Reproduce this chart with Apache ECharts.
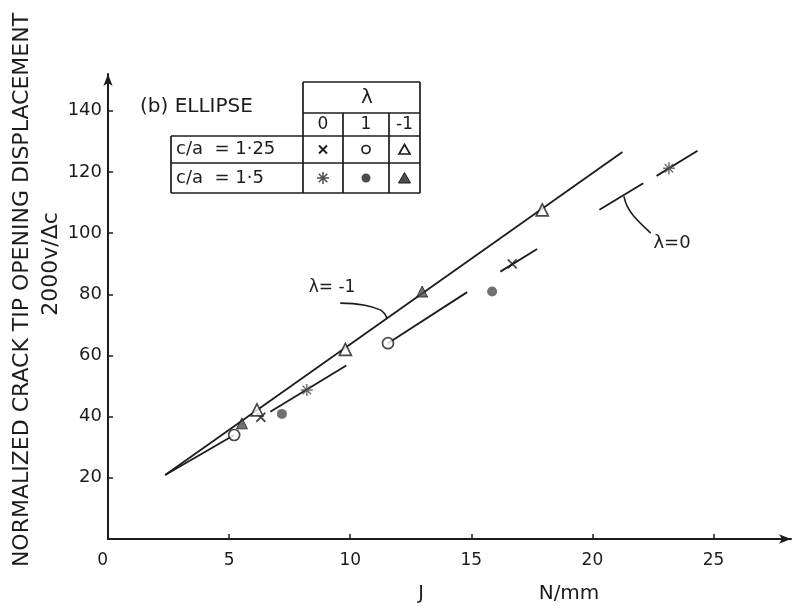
<!DOCTYPE html>
<html>
<head>
<meta charset="utf-8">
<script src="https://cdn.jsdelivr.net/npm/echarts@6/dist/echarts.min.js"></script>
<style>
html, body { margin: 0; padding: 0; background: #fff; }
#chart { width: 797px; height: 615px; }
</style>
</head>
<body>
<div id="chart"></div>
<script>
// points: [J (N/mm), 2000v/Δc]
const crossPts = [[6.31, 39.8], [16.69, 89.9]];                    // c/a = 1.25, λ = 0
const openCirclePts = [[5.21, 34.0], [11.56, 64.0]];               // c/a = 1.25, λ = 1
const openTrianglePts = [[6.15, 42.2], [9.80, 62.0], [17.93, 107.6]]; // c/a = 1.25, λ = -1
const starPts = [[8.21, 48.7], [23.16, 121.2]];                    // c/a = 1.5, λ = 0
const filledCirclePts = [[7.18, 40.9], [15.86, 80.9]];             // c/a = 1.5, λ = 1
const filledTrianglePts = [[5.53, 37.8], [12.97, 80.9]];           // c/a = 1.5, λ = -1

// fitted lines (drawn in pieces like the original)
const lineNeg1Segs = [[[2.36, 20.9], [21.24, 126.5]]];
const line1Segs = [[[2.36, 20.9], [5.21, 34.0]], [[11.56, 64.0], [14.83, 80.7]]];
const line0Segs = [
    [[6.70, 41.6], [9.84, 56.7]],
    [[16.2, 87.4], [17.72, 94.8]],
    [[20.29, 107.6], [22.10, 116.3]],
    [[22.65, 118.7], [24.34, 126.9]]
];
// curved pointers to the line labels
const leaderNeg1 = [[9.59, 77.1], [10.55, 76.5], [11.24, 74.9], [11.45, 73.3], [11.52, 71.9]];
const leader0 = [[21.30, 112.0], [21.44, 108.7], [21.72, 105.4], [22.41, 100.0]];

const xTicks = [0, 5, 10, 15, 20, 25];
const yTicks = [20, 40, 60, 80, 100, 120, 140];

var ink = '#1c1c1c';
var grey = '#4d4d4d';
var font = "'DejaVu Sans', sans-serif";

var chartDom = document.getElementById('chart');
var myChart = echarts.init(chartDom);

const crossPath = 'path://M0,0L10,10M10,0L0,10';
const starPath = 'path://M5,0L5,10M0,5L10,5M1.5,1.5L8.5,8.5M8.5,1.5L1.5,8.5';

var segSeries = function (segs, width) {
    return segs.map(function (s) {
        return {
            type: 'line',
            data: s,
            showSymbol: false,
            silent: true,
            z: 2,
            lineStyle: { color: ink, width: width || 1.8 }
        };
    });
};

var leaderSeries = function (pts) {
    return {
        type: 'line',
        data: pts,
        smooth: 0.4,
        showSymbol: false,
        silent: true,
        z: 2,
        lineStyle: { color: ink, width: 1.6 }
    };
};

var scatter = function (pts, symbol, size, style) {
    return {
        type: 'scatter',
        data: pts,
        symbol: symbol,
        symbolSize: size,
        z: 5,
        itemStyle: style
    };
};

// ---- the table in the upper left ----
var hl = function (x1, x2, y) {
    return { type: 'line', shape: { x1: x1, y1: y, x2: x2, y2: y }, style: { stroke: ink, lineWidth: 1.7 } };
};
var vl = function (x, y1, y2) {
    return { type: 'line', shape: { x1: x, y1: y1, x2: x, y2: y2 }, style: { stroke: ink, lineWidth: 1.7 } };
};
var txt = function (x, y, s, size, align) {
    return {
        type: 'text', x: x, y: y,
        style: { text: s, font: size + 'px ' + font, fill: ink, align: align || 'center', verticalAlign: 'middle' }
    };
};

var tL = 171, c0 = 303, c1 = 343, c2 = 389, tR = 420;
var r0 = 82, r1 = 113, r2 = 136, r3 = 163, r4 = 193;
var col0 = (c0 + c1) / 2, col1 = (c1 + c2) / 2, col2 = (c2 + tR) / 2;
var row1 = (r2 + r3) / 2, row2 = (r3 + r4) / 2;

var tableGraphics = [
    hl(c0, tR, r0), hl(c0, tR, r1), hl(tL, tR, r2), hl(tL, tR, r3), hl(tL, tR, r4),
    vl(tL, r2, r4), vl(c0, r0, r4), vl(c1, r1, r4), vl(c2, r1, r4), vl(tR, r0, r4),
    txt(140, 107, '(b) ELLIPSE', 20, 'left'),
    txt(367, 98, 'λ', 20),
    txt(col0, 124.5, '0', 17), txt(col1, 124.5, '1', 17), txt(col2, 124.5, '-1', 17),
    txt(176, row1, 'c/a  = 1·25', 18, 'left'),
    txt(176, row2, 'c/a  = 1·5', 18, 'left'),
    // row 1 symbols
    { type: 'line', shape: { x1: col0 - 4, y1: row1 - 4, x2: col0 + 4, y2: row1 + 4 }, style: { stroke: ink, lineWidth: 1.8 } },
    { type: 'line', shape: { x1: col0 + 4, y1: row1 - 4, x2: col0 - 4, y2: row1 + 4 }, style: { stroke: ink, lineWidth: 1.8 } },
    { type: 'circle', shape: { cx: col1, cy: row1, r: 4 }, style: { fill: '#fff', stroke: ink, lineWidth: 1.7 } },
    { type: 'polygon', shape: { points: [[col2, row1 - 5], [col2 + 5.5, row1 + 4.5], [col2 - 5.5, row1 + 4.5]] }, style: { fill: '#fff', stroke: ink, lineWidth: 1.7 } },
    // row 2 symbols
    { type: 'line', shape: { x1: col0, y1: row2 - 6, x2: col0, y2: row2 + 6 }, style: { stroke: grey, lineWidth: 1.5 } },
    { type: 'line', shape: { x1: col0 - 6, y1: row2, x2: col0 + 6, y2: row2 }, style: { stroke: grey, lineWidth: 1.5 } },
    { type: 'line', shape: { x1: col0 - 4.3, y1: row2 - 4.3, x2: col0 + 4.3, y2: row2 + 4.3 }, style: { stroke: grey, lineWidth: 1.5 } },
    { type: 'line', shape: { x1: col0 + 4.3, y1: row2 - 4.3, x2: col0 - 4.3, y2: row2 + 4.3 }, style: { stroke: grey, lineWidth: 1.5 } },
    { type: 'circle', shape: { cx: col1, cy: row2, r: 4.5 }, style: { fill: grey } },
    { type: 'polygon', shape: { points: [[col2, row2 - 5.5], [col2 + 6, row2 + 5], [col2 - 6, row2 + 5]] }, style: { fill: grey, stroke: ink, lineWidth: 1 } }
];

var labelGraphics = [
    txt(332, 288, 'λ= -1', 17),
    txt(672, 243, 'λ=0', 18),
    txt(421, 594, 'J', 19),
    txt(569, 594, 'N/mm', 20),
    {
        type: 'text', x: 22, y: 290, rotation: Math.PI / 2,
        style: { text: 'NORMALIZED CRACK TIP OPENING DISPLACEMENT', font: '22px ' + font, fill: ink, align: 'center', verticalAlign: 'middle' }
    },
    {
        type: 'text', x: 51, y: 264, rotation: Math.PI / 2,
        style: { text: '2000v/Δc', font: '22px ' + font, fill: ink, align: 'center', verticalAlign: 'middle' }
    }
];

var option = {
    backgroundColor: '#fff',
    animation: false,
    grid: { left: 108, right: 6, top: 74, bottom: 76, containLabel: false },
    xAxis: {
        type: 'value',
        min: 0,
        max: 28.2,
        splitLine: { show: false },
        axisLine: { lineStyle: { color: ink, width: 2 }, symbol: ['none', 'arrow'], symbolSize: [7, 12] },
        axisTick: { inside: true, length: 5, lineStyle: { color: ink, width: 1.5 }, customValues: xTicks.slice(1) },
        axisLabel: {
            customValues: xTicks,
            margin: 13,
            alignMinLabel: 'right',
            color: ink,
            fontFamily: font,
            fontSize: 17
        }
    },
    yAxis: {
        type: 'value',
        min: 0,
        max: 152,
        splitLine: { show: false },
        axisLine: { lineStyle: { color: ink, width: 2 }, symbol: ['none', 'arrow'], symbolSize: [7, 12] },
        axisTick: { inside: true, length: 5, lineStyle: { color: ink, width: 1.5 }, customValues: yTicks },
        axisLabel: {
            customValues: yTicks,
            margin: 6,
            color: ink,
            fontFamily: font,
            fontSize: 18
        }
    },
    series: []
        .concat(segSeries(lineNeg1Segs))
        .concat(segSeries(line1Segs))
        .concat(segSeries(line0Segs))
        .concat([leaderSeries(leaderNeg1), leaderSeries(leader0)])
        .concat([
            scatter(crossPts, crossPath, 9, { color: 'transparent', borderColor: ink, borderWidth: 1.8 }),
            scatter(openCirclePts, 'circle', 11, { color: '#fff', borderColor: ink, borderWidth: 1.7 }),
            scatter(openTrianglePts, 'triangle', 12, { color: '#fff', borderColor: ink, borderWidth: 1.7 }),
            scatter(starPts, starPath, 12, { color: 'transparent', borderColor: grey, borderWidth: 1.5 }),
            scatter(filledCirclePts, 'circle', 10, { color: grey }),
            scatter(filledTrianglePts, 'triangle', 11, { color: grey, borderColor: ink, borderWidth: 1 })
        ]),
    graphic: tableGraphics.concat(labelGraphics)
};

option && myChart.setOption(option);
</script>
</body>
</html>
